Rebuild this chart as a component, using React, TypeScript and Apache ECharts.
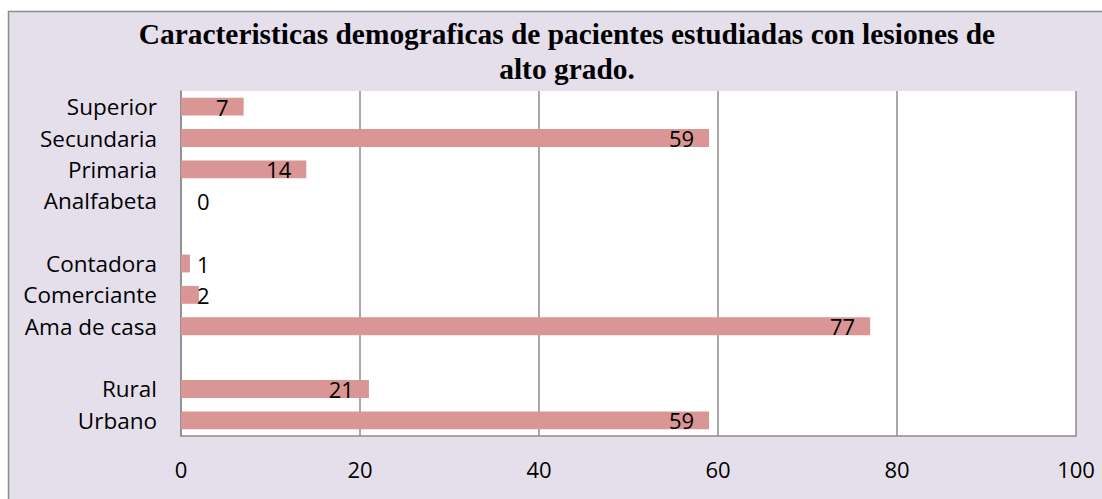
import React, { useEffect, useRef } from "react";
import * as echarts from "echarts";

const TITLE = "Caracteristicas demograficas de pacientes estudiadas con lesiones de\nalto grado.";
// bottom to top, gaps as blank categories
const categories = ["Urbano", "Rural", " ", "Ama de casa", "Comerciante", "Contadora", "  ", "Analfabeta", "Primaria", "Secundaria", "Superior"];
const values: (number | null)[] = [59, 21, null, 77, 2, 1, null, 0, 14, 59, 7];
const xTicks = [0, 20, 40, 60, 80, 100];

export default function App() {
  const ref = useRef<HTMLDivElement>(null);
  useEffect(() => {
    document.body.style.margin = "0";
    const chart = echarts.init(ref.current!, undefined, { renderer: "svg" });
    const font = "'Open Sans', 'Noto Sans', sans-serif";
    chart.setOption({
      animation: false,
      backgroundColor: "#ffffff",
      graphic: [
        {
          type: "rect",
          z: -10,
          silent: true,
          shape: { x: 8.5, y: 11.5, width: 1200, height: 600 },
          style: { fill: "#E5DFEC", stroke: "#8C8C8C", lineWidth: 1.5 },
        },
      ],
      title: {
        text: TITLE,
        left: 562,
        top: 11,
        textAlign: "center",
        textStyle: {
          fontFamily: "'Liberation Serif', 'Times New Roman', serif",
          fontWeight: "bold",
          fontSize: 29.4,
          lineHeight: 35,
          color: "#000",
        },
      },
      grid: {
        left: 181,
        right: 26,
        top: 91,
        bottom: 63,
        show: true,
        backgroundColor: "#ffffff",
        borderWidth: 0,
      },
      xAxis: {
        type: "value",
        min: 0,
        max: 100,
        interval: 20,
        axisLine: { show: true, lineStyle: { color: "#8C8C8C", width: 1.5 } },
        axisTick: { show: false },
        splitLine: { show: true, lineStyle: { color: "#8C8C8C", width: 1.5 } },
        axisLabel: {
          margin: 22,
          fontFamily: font,
          fontSize: 22,
          color: "#000",
          formatter: (v: number) => (xTicks.includes(v) ? String(v) : ""),
        },
      },
      yAxis: {
        type: "category",
        data: categories,
        axisLine: { show: true, lineStyle: { color: "#8C8C8C", width: 1.5 } },
        axisTick: { show: false },
        axisLabel: {
          margin: 24,
          fontFamily: font,
          fontSize: 22.5,
          color: "#000",
          interval: 0,
        },
      },
      series: [
        {
          type: "bar",
          barWidth: "57%",
          itemStyle: { color: "#D99694" },
          data: values.map((v) =>
            v === null
              ? null
              : v <= 2
              ? { value: v, label: { show: true, position: "insideLeft", distance: 16 } }
              : { value: v }
          ),
          label: {
            show: true,
            position: "insideRight",
            distance: 15,
            fontFamily: font,
            fontSize: 22,
            color: "#000",
          },
        },
      ],
    });
    return () => chart.dispose();
  }, []);
  return <div ref={ref} style={{ width: 1102, height: 499 }} />;
}
